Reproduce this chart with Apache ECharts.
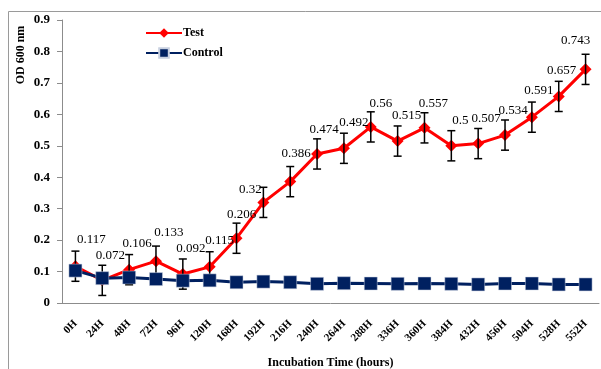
<!DOCTYPE html>
<html>
<head>
<meta charset="utf-8">
<script src="https://cdn.jsdelivr.net/npm/echarts@6/dist/echarts.min.js"></script>
<style>
  html, body { margin: 0; padding: 0; background: #fff; }
  #chart { width: 601px; height: 369px; }
</style>
</head>
<body>
<div id="chart"></div>
<script>
// Incubation time points
const categories = ['0H','24H','48H','72H','96H','120H','168H','192H','216H','240H',
  '264H','288H','336H','360H','384H','432H','456H','504H','528H','552H'];

// OD 600 nm readings
const testValues = [0.117,0.072,0.106,0.133,0.092,0.115,0.206,0.32,0.386,0.474,
  0.492,0.56,0.515,0.557,0.5,0.507,0.534,0.591,0.657,0.743];
const controlValues = [0.103,0.079,0.081,0.076,0.071,0.072,0.066,0.068,0.066,0.061,
  0.063,0.062,0.061,0.062,0.061,0.059,0.062,0.062,0.059,0.059];

// Standard deviation of the test readings
const testErrors = [0.048,0.048,0.048,0.048,0.048,0.048,0.048,0.048,0.048,0.048,
  0.048,0.048,0.048,0.048,0.048,0.048,0.048,0.048,0.048,0.048];

// Value-label nudges (px, relative to the point centre)
const labelShift = [[16,-27],[8,-25],[8,-26],[13,-29],[8,-25],[10,-26],[5,-24],[-13,-13],[6,-28],[7,-24],
  [10,-26],[10,-23],[9,-25],[9,-24],[9,-25],[8,-25],[8,-25],[7,-27],[3,-26],[-10,-29]];

const SERIF = '"Liberation Serif", "Times New Roman", serif';
const AXIS_GRAY = '#8c8c8c';

const chart = echarts.init(document.getElementById('chart'), null, { renderer: 'canvas' });

const errorData = testValues.map((v, i) => [i, v - testErrors[i], v + testErrors[i]]);

chart.setOption({
  animation: false,
  backgroundColor: '#ffffff',
  grid: { left: 62, right: 2, top: 20, bottom: 66, containLabel: false, outerBoundsMode: 'none' },
  graphic: [
    {
      type: 'rect', silent: true, z: -1,
      shape: { x: 8.5, y: 11.5, width: 800, height: 500 },
      style: { fill: null, stroke: '#9a9a9a', lineWidth: 1 }
    },
    {
      type: 'text', silent: true,
      x: 21, y: 55, rotation: Math.PI / 2,
      style: {
        text: 'OD 600 nm', font: 'bold 12px ' + SERIF, fill: '#000',
        align: 'center', verticalAlign: 'middle'
      }
    }
  ],
  legend: {
    orient: 'vertical',
    left: 140, top: 22,
    itemWidth: 36, itemHeight: 12, itemGap: 8,
    textStyle: { fontFamily: SERIF, fontWeight: 'bold', fontSize: 12, color: '#000', padding: [0, 0, 0, -4] },
    data: ['Test', 'Control']
  },
  xAxis: {
    type: 'category',
    data: categories,
    boundaryGap: true,
    name: 'Incubation Time (hours)',
    nameLocation: 'middle',
    nameGap: 54,
    nameTextStyle: { fontFamily: SERIF, fontWeight: 'bold', fontSize: 12, color: '#000' },
    axisLine: { lineStyle: { color: AXIS_GRAY, width: 1 } },
    axisTick: { length: 5, lineStyle: { color: AXIS_GRAY } },
    axisLabel: {
      rotate: 45, interval: 0, margin: 19,
      fontFamily: SERIF, fontWeight: 'bold', fontSize: 11, color: '#000'
    },
    splitLine: { show: false }
  },
  yAxis: {
    type: 'value',
    min: 0, max: 0.9, interval: 0.1,
    axisLine: { show: true, lineStyle: { color: AXIS_GRAY, width: 1 } },
    axisTick: { show: true, length: 5, lineStyle: { color: AXIS_GRAY } },
    axisLabel: {
      margin: 12, fontFamily: SERIF, fontWeight: 'bold', fontSize: 13, color: '#000'
    },
    splitLine: { show: false }
  },
  series: [
    {
      name: 'Test',
      type: 'line',
      data: testValues,
      z: 2,
      symbol: 'diamond',
      symbolSize: 12,
      itemStyle: { color: '#ff0000' },
      lineStyle: { color: '#ff0000', width: 3 },
      label: {
        show: true,
        position: 'inside',
        fontFamily: SERIF, fontSize: 13, color: '#000',
        formatter: p => String(testValues[p.dataIndex])
      },
      labelLayout: p => ({
        dx: labelShift[p.dataIndex][0],
        dy: labelShift[p.dataIndex][1]
      })
    },
    {
      name: 'Error',
      type: 'custom',
      z: 3,
      data: errorData,
      encode: { x: 0, y: [1, 2] },
      renderItem: (params, api) => {
        const x = api.value(0);
        const lo = api.coord([x, api.value(1)]);
        const hi = api.coord([x, api.value(2)]);
        const cap = 4;
        const st = { stroke: '#000', lineWidth: 1.5, fill: null };
        return {
          type: 'group',
          children: [
            { type: 'line', shape: { x1: lo[0], y1: lo[1], x2: hi[0], y2: hi[1] }, style: st },
            { type: 'line', shape: { x1: lo[0] - cap, y1: lo[1], x2: lo[0] + cap, y2: lo[1] }, style: st },
            { type: 'line', shape: { x1: hi[0] - cap, y1: hi[1], x2: hi[0] + cap, y2: hi[1] }, style: st }
          ]
        };
      }
    },
    {
      name: 'Control',
      type: 'line',
      data: controlValues,
      z: 4,
      symbol: 'rect',
      symbolSize: 13,
      itemStyle: { color: '#002060', borderColor: '#c8d0e0', borderWidth: 0.5 },
      lineStyle: { color: '#002060', width: 3 }
    }
  ]
});
</script>
</body>
</html>
